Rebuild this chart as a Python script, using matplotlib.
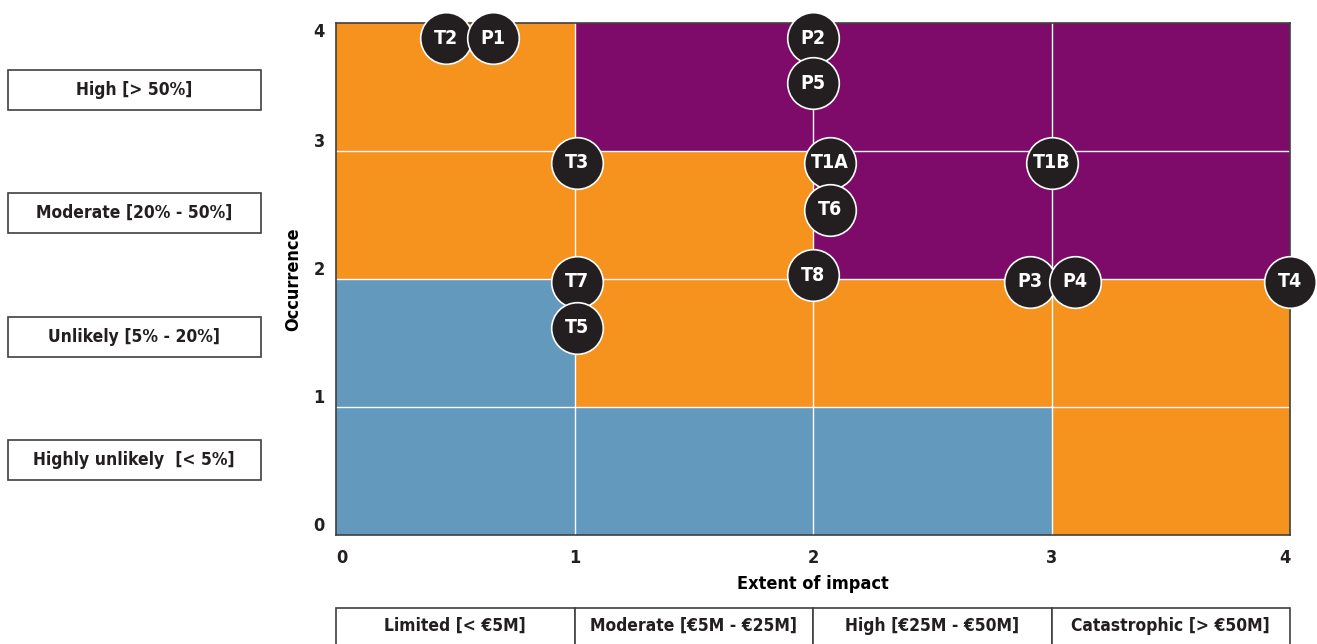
import matplotlib
matplotlib.use('Agg')
import matplotlib.pyplot as plt
from matplotlib.patches import Rectangle
import numpy as np

plt.rcParams['font.family'] = ['DejaVu Sans']
plt.rcParams['font.stretch'] = 'condensed'
plt.rcParams['font.weight'] = 'bold'

# risk level of each cell: rows = occurrence 0..3 (bottom to top), cols = impact 0..3
risk_grid = [
    [0, 0, 0, 1],
    [0, 1, 1, 1],
    [1, 1, 2, 2],
    [1, 2, 2, 2],
]
risk_colors = ['#6399BC', '#F6921E', '#7E0B6A']

labels = ['T2', 'P1', 'P2', 'P5', 'T3', 'T1A', 'T1B', 'T6', 'T8', 'T7', 'T5', 'P3', 'P4', 'T4']
impact = [0.46, 0.66, 2.0, 2.0, 1.01, 2.07, 3.0, 2.07, 2.0, 1.01, 1.01, 2.91, 3.10, 4.0]
occurrence = [3.88, 3.88, 3.88, 3.53, 2.91, 2.91, 2.91, 2.54, 2.03, 1.98, 1.62, 1.98, 1.98, 1.98]

occ_classes = ['Highly unlikely  [< 5%]', 'Unlikely [5% - 20%]', 'Moderate [20% - 50%]', 'High [> 50%]']
occ_box_y = [460, 337, 213, 90]  # pixel centres of the side boxes
impact_classes = ['Limited [< €5M]', 'Moderate [€5M - €25M]', 'High [€25M - €50M]', 'Catastrophic [> €50M]']

W, H = 1317, 644
fig = plt.figure(figsize=(W / 100, H / 100), dpi=100)
ax = fig.add_axes([336 / W, 1 - 535 / H, (1290 - 336) / W, (535 - 23) / H])

for r, row in enumerate(risk_grid):
    for c, lvl in enumerate(row):
        ax.add_patch(Rectangle((c, r), 1, 1, facecolor=risk_colors[lvl], edgecolor='none', zorder=1))
for v in range(1, 4):
    ax.axvline(v, color='white', lw=1, zorder=2)
    ax.axhline(v, color='white', lw=1, zorder=2)

ax.scatter(impact, occurrence, s=1380, c='#231F20', edgecolors='white', linewidths=1.2, zorder=5, clip_on=False)
for lab, x, y in zip(labels, impact, occurrence):
    ax.text(x, y, lab, color='white', fontsize=14, fontweight='bold', ha='center', va='center', zorder=6)

ax.set_xlim(0, 4)
ax.set_ylim(0, 4)
ax.set_xticks(range(5))
ax.set_yticks(range(5))
ax.tick_params(length=0, labelsize=13, colors='#231F20')
ax.tick_params(axis='x', pad=10)
ax.tick_params(axis='y', pad=8)
ylabs = ax.get_yticklabels()
for lab in ylabs:
    lab.set_verticalalignment('bottom')
ylabs[-1].set_verticalalignment('top')
xlabs = ax.get_xticklabels()
xlabs[0].set_horizontalalignment('left')
xlabs[-1].set_horizontalalignment('right')
for sp in ax.spines.values():
    sp.set_color('#404040')
    sp.set_linewidth(1.2)
ax.set_xlabel('Extent of impact', fontsize=13, fontweight='bold', labelpad=6)
ax.set_ylabel('Occurrence', fontsize=13, fontweight='bold', labelpad=8)

# side boxes for occurrence classes
for txt, yc in zip(occ_classes, occ_box_y):
    fig.add_artist(Rectangle((8 / W, 1 - (yc + 20) / H), 253 / W, 40 / H,
                             transform=fig.transFigure, facecolor='white', edgecolor='#404040', lw=1.2))
    fig.text(134 / W, 1 - yc / H, txt, ha='center', va='center', fontsize=12.5, fontweight='bold', color='#231F20')

# bottom table for impact classes
for i, txt in enumerate(impact_classes):
    x0 = ax.transData.transform((i, 0))[0] / W
    x1 = ax.transData.transform((i + 1, 0))[0] / W
    fig.add_artist(Rectangle((x0, 1 - 650 / H), x1 - x0, 42 / H,
                             transform=fig.transFigure, facecolor='white', edgecolor='#404040', lw=1.2))
    fig.text((x0 + x1) / 2, 1 - 626 / H, txt, ha='center', va='center', fontsize=12.5, fontweight='bold', color='#231F20')

fig.savefig('out.png', dpi=100)
